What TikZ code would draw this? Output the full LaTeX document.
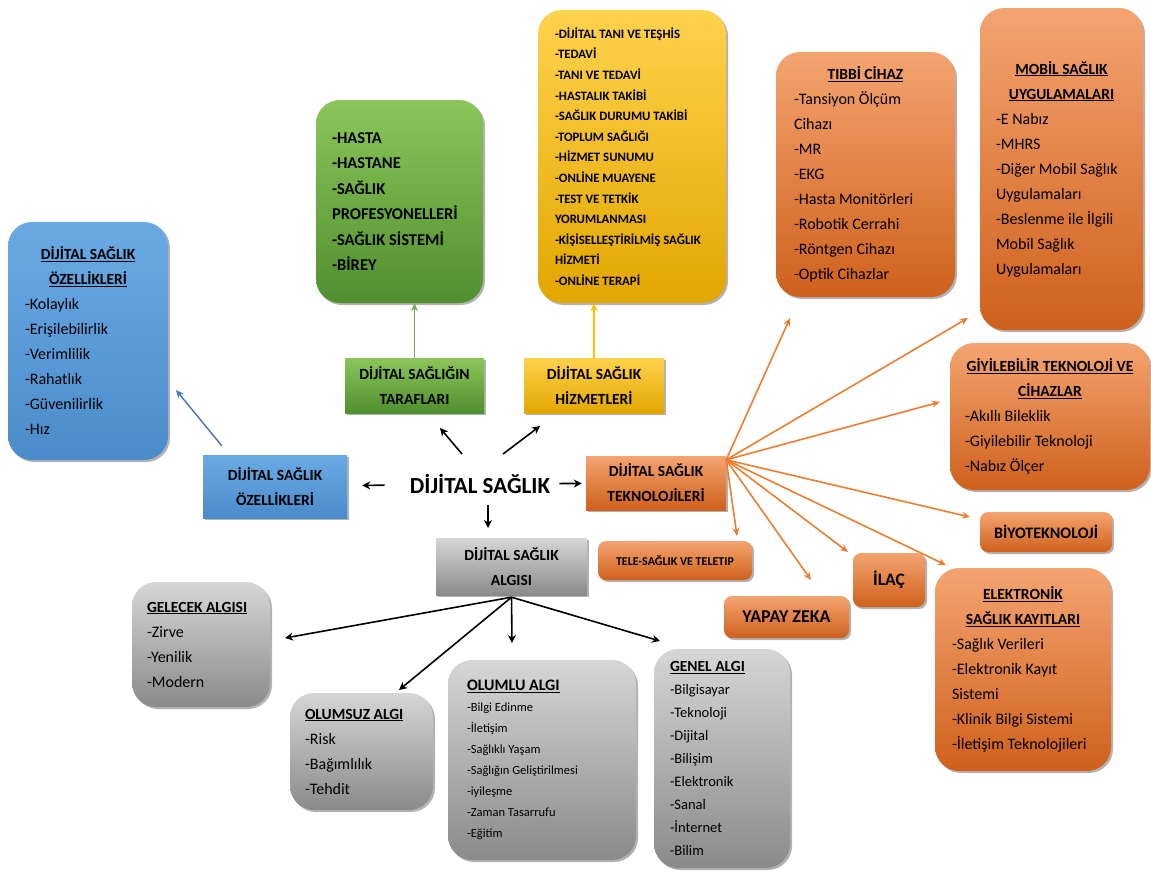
\documentclass[tikz,border=0pt]{standalone}
\usepackage{fontspec}
\setmainfont{Carlito}
\usetikzlibrary{arrows.meta,shadows,calc}
\definecolor{blueT}{HTML}{6AAAE4}
\definecolor{blueB}{HTML}{4A8BCB}
\definecolor{greenT}{HTML}{8CC65A}
\definecolor{greenB}{HTML}{4F8F2E}
\definecolor{yellowT}{HTML}{FFD24D}
\definecolor{yellowB}{HTML}{E2A600}
\definecolor{orangeT}{HTML}{F4A470}
\definecolor{orangeB}{HTML}{CF601C}
\definecolor{grayT}{HTML}{D6D6D6}
\definecolor{grayB}{HTML}{8A8A8A}
\definecolor{lblue}{HTML}{4472C4}
\definecolor{lgreen}{HTML}{70AD47}
\definecolor{lyellow}{HTML}{FFC000}
\definecolor{lorange}{HTML}{ED7D31}
\newcommand\hd[1]{\underline{#1}}
\newcommand\hf{\fontsize{15.5}{25}\selectfont\bfseries}
\newcommand\itf{\fontsize{16}{25}\selectfont\mdseries}
\begin{document}
\begin{tikzpicture}[x=1pt,y=-1pt,
  base/.style={draw=none, inner sep=0pt, align=center,
    drop shadow={shadow xshift=2pt, shadow yshift=-2pt, opacity=0.3, fill=black}},
  rbox/.style={base, rounded corners=24pt},
  mbox/.style={base, rounded corners=8pt},
  sbox/.style={base, font=\fontsize{15.5}{25}\selectfont\bfseries},
  blueF/.style={top color=blueT, bottom color=blueB},
  greenF/.style={top color=greenT, bottom color=greenB},
  yellowF/.style={top color=yellowT, bottom color=yellowB},
  orangeF/.style={top color=orangeT, bottom color=orangeB},
  grayF/.style={top color=grayT, bottom color=grayB},
  barr/.style={draw=black, line width=1.6pt, -{Stealth[length=8pt,width=8pt]}},
  oarr/.style={draw=lorange, line width=1.6pt, -{Stealth[length=8pt,width=7pt]}},
  carr/.style={line width=1.4pt, -{Stealth[length=8pt,width=7pt]}}
]
\useasboundingbox (0,0) rectangle (1151,871);

% centre
\node[inner sep=0pt, font=\fontsize{23}{28}\selectfont\bfseries] (ds) at (480,484) {DİJİTAL SAĞLIK};

% first-level boxes
\node[sbox, blueF, minimum width=144, minimum height=63] (ozs) at (275,486.5) {DİJİTAL SAĞLIK\\ÖZELLİKLERİ};
\node[sbox, greenF, minimum width=139, minimum height=55] (tar) at (414.5,385.5) {DİJİTAL SAĞLIĞIN\\TARAFLARI};
\node[sbox, yellowF, minimum width=140, minimum height=55] (hiz) at (594,385.5) {DİJİTAL SAĞLIK\\HİZMETLERİ};
\node[sbox, orangeF, minimum width=140, minimum height=54] (tek) at (656,483) {DİJİTAL SAĞLIK\\TEKNOLOJİLERİ};
\node[sbox, grayF, minimum width=151, minimum height=57] (alg) at (511.5,566.5) {DİJİTAL SAĞLIK\\ALGISI};

% blue big
\node[rbox, blueF, minimum width=160, minimum height=238] (ozb) at (88,341)
 {\parbox{126pt}{\centering\hf\hd{DİJİTAL SAĞLIK}\\\hd{ÖZELLİKLERİ}\par\raggedright\itf
 -Kolaylık\\-Erişilebilirlik\\-Verimlilik\\-Rahatlık\\-Güvenilirlik\\-Hız}};

% green big
\node[rbox, greenF, minimum width=167, minimum height=203, font=\fontsize{16.5}{25.5}\selectfont\bfseries] (tarB) at (399.5,201.5)
 {\parbox{135pt}{\raggedright -HASTA\\-HASTANE\\-SAĞLIK\\PROFESYONELLERİ\\-SAĞLIK SİSTEMİ\\-BİREY}};

% yellow big
\node[rbox, yellowF, minimum width=188, minimum height=293, font=\fontsize{12.8}{20.6}\selectfont\bfseries] (hizB) at (632,156.5)
 {\parbox{154pt}{\raggedright -DİJİTAL TANI VE TEŞHİS\\-TEDAVİ\\-TANI VE TEDAVİ\\-HASTALIK TAKİBİ\\-SAĞLIK DURUMU TAKİBİ\\-TOPLUM SAĞLIĞI\\-HİZMET SUNUMU\\-ONLİNE MUAYENE\\-TEST VE TETKİK\\YORUMLANMASI\\-KİŞİSELLEŞTİRİLMİŞ SAĞLIK\\HİZMETİ\\-ONLİNE TERAPİ}};

% orange technology boxes
\node[rbox, orangeF, minimum width=179, minimum height=245] (tib) at (865.5,174.5)
 {\parbox{143pt}{\centering\hf\hd{TIBBİ CİHAZ}\par\raggedright\itf
 -Tansiyon Ölçüm\\Cihazı\\-MR\\-EKG\\-Hasta Monitörleri\\-Robotik Cerrahi\\-Röntgen Cihazı\\-Optik Cihazlar}};
\node[rbox, orangeF, minimum width=163, minimum height=322] (mob) at (1061.5,169)
 {\parbox{131pt}{\centering\hf\hd{MOBİL SAĞLIK}\\\hd{UYGULAMALARI}\par\raggedright\itf
 -E Nabız\\-MHRS\\-Diğer Mobil Sağlık\\Uygulamaları\\-Beslenme ile İlgili\\Mobil Sağlık\\Uygulamaları}};
\node[rbox, orangeF, minimum width=200, minimum height=147] (giy) at (1050,416.5)
 {\parbox{170pt}{\centering\hf\hd{GİYİLEBİLİR TEKNOLOJİ VE}\\\hd{CİHAZLAR}\par\raggedright\itf
 -Akıllı Bileklik\\-Giyilebilir Teknoloji\\-Nabız Ölçer}};
\node[mbox, orangeF, minimum width=132, minimum height=40, font=\fontsize{16}{19}\selectfont\bfseries] (biy) at (1046,532) {BİYOTEKNOLOJİ};
\node[mbox, orangeF, minimum width=154, minimum height=39, font=\fontsize{12}{14}\selectfont\bfseries] (tele) at (675,560.5) {TELE-SAĞLIK VE TELETIP};
\node[mbox, orangeF, minimum width=72, minimum height=54, font=\fontsize{17.5}{20}\selectfont\bfseries] (ilac) at (889,580) {İLAÇ};
\node[mbox, orangeF, minimum width=125, minimum height=42, font=\fontsize{18}{21}\selectfont\bfseries] (yz) at (786.5,617) {YAPAY ZEKA};
\node[rbox, orangeF, minimum width=176, minimum height=203] (ele) at (1023,669.5)
 {\parbox{142pt}{\centering\hf\hd{ELEKTRONİK}\\\hd{SAĞLIK KAYITLARI}\par\raggedright\itf
 -Sağlık Verileri\\-Elektronik Kayıt\\Sistemi\\-Klinik Bilgi Sistemi\\-İletişim Teknolojileri}};

% gray perception boxes
\node[rbox, grayF, minimum width=138, minimum height=125] (gel) at (201,644.5)
 {\parbox{108pt}{\raggedright\hf\hd{GELECEK ALGISI}\par\itf -Zirve\\-Yenilik\\-Modern}};
\node[rbox, grayF, minimum width=143, minimum height=117] (ols) at (361.5,751.5)
 {\parbox{113pt}{\raggedright\hf\hd{OLUMSUZ ALGI}\par\itf -Risk\\-Bağımlılık\\-Tehdit}};
\node[rbox, grayF, minimum width=188, minimum height=200] (olm) at (542,760)
 {\parbox{150pt}{\raggedright\fontsize{16}{21}\selectfont\bfseries\hd{OLUMLU ALGI}\par\fontsize{12.5}{21}\selectfont\mdseries
 -Bilgi Edinme\\-İletişim\\-Sağlıklı Yaşam\\-Sağlığın Geliştirilmesi\\-iyileşme\\-Zaman Tasarrufu\\-Eğitim}};
\node[rbox, grayF, minimum width=136, minimum height=219] (gen) at (722,758.5)
 {\parbox{104pt}{\raggedright\fontsize{15.5}{23}\selectfont\bfseries\hd{GENEL ALGI}\par\fontsize{14.5}{23}\selectfont\mdseries
 -Bilgisayar\\-Teknoloji\\-Dijital\\-Bilişim\\-Elektronik\\-Sanal\\-İnternet\\-Bilim}};

% arrow end coordinates
\coordinate (dn) at (488,528);
\coordinate (ul) at (440,428);
\coordinate (ur) at (540,426);
\coordinate (bt) at (176,390);
\coordinate (o1) at (790,318);
\coordinate (o2) at (968,318);
\coordinate (o3) at (940,402);
\coordinate (o4) at (970,517);
\coordinate (o5) at (946,565);
\coordinate (o6) at (848,552);
\coordinate (o7) at (811,580);
\coordinate (o8) at (737,536);
\coordinate (g1) at (285,638);
\coordinate (g2) at (399,690);
\coordinate (g3) at (512,643);
\coordinate (g4) at (660,641);

% centre arrows
\draw[barr, shorten <=25pt, shorten >=15pt] (ds) -- (ozs);
\draw[barr, shorten <=9pt, shorten >=4pt] (ds) -- (tek);
\draw[barr] ([shift={(8,21)}]ds.center) -- (dn);
\draw[barr] ([shift={(-18,-30)}]ds.center) -- (ul);
\draw[barr] ([shift={(23,-30)}]ds.center) -- (ur);

% coloured connectors
\draw[carr, draw=lblue] ([shift={(19,-9)}]ozs.north west) -- (bt);
\draw[carr, draw=lgreen] (tar.north) -- (tar.north |- tarB.south);
\draw[carr, draw=lyellow] (hiz.north) -- (hiz.north |- hizB.south);

% orange fan
\foreach \c in {o1,o2,o3,o4,o5,o6,o7,o8}
  \draw[oarr] ([shift={(0,4)}]tek.north east) -- (\c);

% gray fan
\foreach \c in {g1,g2,g3,g4}
  \draw[barr] ([shift={(0,2)}]alg.south) -- (\c);
\end{tikzpicture}
\end{document}
